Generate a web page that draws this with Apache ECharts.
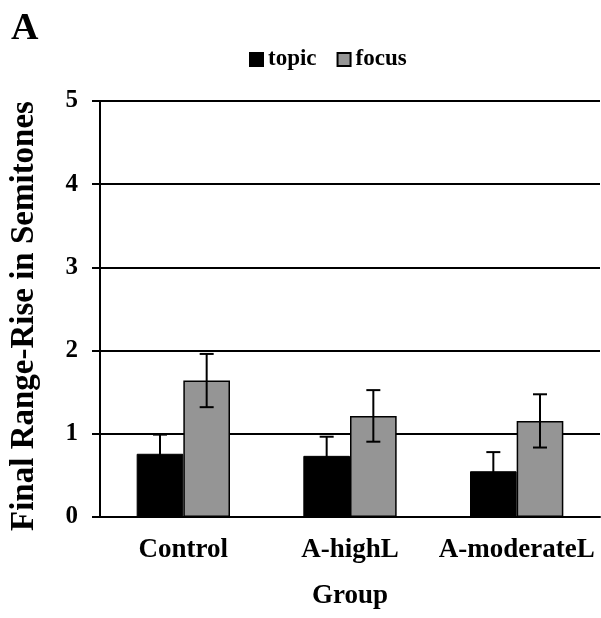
<!DOCTYPE html>
<html>
<head>
<meta charset="utf-8">
<script src="https://cdn.jsdelivr.net/npm/echarts@6/dist/echarts.min.js"></script>
<style>
    html, body { margin: 0; padding: 0; background: #fff; }
    #chart { width: 601px; height: 618px; }
</style>
</head>
<body>
<div id="chart"></div>
<script>
"use strict";
var groups = ['Control', 'A-highL', 'A-moderateL'];
var topicValues = [0.76, 0.735, 0.55];
var topicErrors = [0.23, 0.23, 0.23];
var focusValues = [1.64, 1.215, 1.155];
var focusErrors = [0.32, 0.31, 0.32];
var yTicks = [0, 1, 2, 3, 4, 5];

var serif = "'Liberation Serif', 'DejaVu Serif', serif";
var barFrac = 0.28;

function errorSeries(name, values, errors, side) {
    var data = values.map(function (v, i) { return [i, v - errors[i], v + errors[i]]; });
    return {
        name: name,
        type: 'custom',
        z: 10,
        silent: true,
        renderItem: function (params, api) {
            var idx = api.value(0);
            var catW = api.size([1, 0])[0];
            var bw = catW * barFrac;
            var lo = api.coord([idx, api.value(1)]);
            var hi = api.coord([idx, api.value(2)]);
            var x = lo[0] + side * bw / 2;
            var cap = 7;
            var style = { stroke: '#000', lineWidth: 2 };
            return {
                type: 'group',
                children: [
                    { type: 'line', shape: { x1: x, y1: lo[1], x2: x, y2: hi[1] }, style: style },
                    { type: 'line', shape: { x1: x - cap, y1: hi[1], x2: x + cap, y2: hi[1] }, style: style },
                    { type: 'line', shape: { x1: x - cap, y1: lo[1], x2: x + cap, y2: lo[1] }, style: style }
                ]
            };
        },
        encode: { x: 0, y: [1, 2] },
        data: data
    };
}

var chart = echarts.init(document.getElementById('chart'));
var option = {
    animation: false,
    backgroundColor: '#fff',
    title: {
        text: 'A',
        left: 6,
        top: 5,
        textStyle: { fontFamily: serif, fontWeight: 'bold', fontSize: 38, color: '#000' }
    },
    graphic: [{
        type: 'text',
        x: 24,
        y: 316,
        rotation: Math.PI / 2,
        style: {
            text: 'Final Range-Rise in Semitones',
            fontFamily: serif, fontWeight: 'bold', fontSize: 33, fill: '#000',
            align: 'center', verticalAlign: 'middle'
        }
    }],
    legend: {
        data: ['topic', 'focus'],
        left: 244,
        top: 43,
        icon: 'rect',
        itemWidth: 13,
        itemHeight: 13,
        itemGap: 20,
        textStyle: { fontFamily: serif, fontWeight: 'bold', fontSize: 23, color: '#000' }
    },
    grid: { left: 100, right: 1, top: 101, bottom: 101 },
    xAxis: {
        type: 'category',
        data: groups,
        name: 'Group',
        nameLocation: 'middle',
        nameGap: 66,
        nameTextStyle: { fontFamily: serif, fontWeight: 'bold', fontSize: 27, color: '#000' },
        axisLine: { lineStyle: { color: '#000', width: 2 } },
        axisTick: { show: false },
        axisLabel: {
            interval: 0, hideOverlap: false, margin: 20,
            fontFamily: serif, fontWeight: 'bold', fontSize: 27, color: '#000'
        }
    },
    yAxis: {
        type: 'value',
        min: 0,
        max: 5,
        interval: 1,
        axisLine: { show: true, lineStyle: { color: '#000', width: 2 } },
        axisTick: { show: true, length: 8, lineStyle: { color: '#000', width: 2 } },
        splitLine: { lineStyle: { color: '#000', width: 2 } },
        axisLabel: {
            margin: 22,
            fontFamily: serif, fontWeight: 'bold', fontSize: 25, color: '#000',
            formatter: function (v) { return yTicks.indexOf(v) >= 0 ? String(v) : ''; }
        }
    },
    series: [
        {
            name: 'topic',
            type: 'bar',
            data: topicValues,
            barWidth: (barFrac * 100) + '%',
            barGap: '0%',
            itemStyle: { color: '#000', borderColor: '#000', borderWidth: 1 }
        },
        {
            name: 'focus',
            type: 'bar',
            data: focusValues,
            barWidth: (barFrac * 100) + '%',
            barGap: '0%',
            itemStyle: { color: '#959595', borderColor: '#000', borderWidth: 1.5 }
        },
        errorSeries('topicErr', topicValues, topicErrors, -1),
        errorSeries('focusErr', focusValues, focusErrors, 1)
    ]
};
chart.setOption(option);
</script>
</body>
</html>
